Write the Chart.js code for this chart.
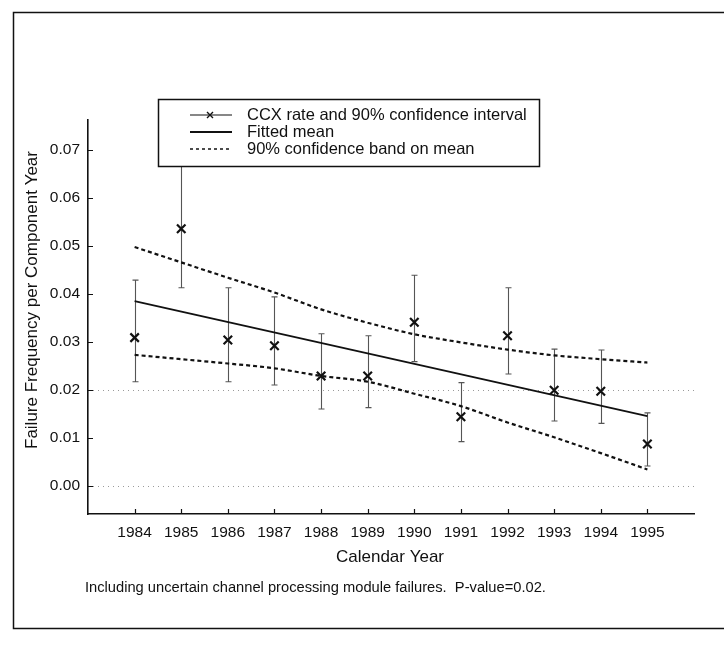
<!DOCTYPE html>
<html>
<head>
<meta charset="utf-8">
<script src="https://cdn.jsdelivr.net/npm/chart.js@4.4.1/dist/chart.umd.min.js"></script>
<style>
  html, body { margin: 0; padding: 0; background: #ffffff; }
  #wrap { position: relative; width: 724px; height: 662px; }
</style>
</head>
<body>
<div id="wrap"><canvas id="chart"></canvas></div>
<script>
// ---------------- data ----------------
const years = [1984, 1985, 1986, 1987, 1988, 1989, 1990, 1991, 1992, 1993, 1994, 1995];
const ccxRate  = [0.0309, 0.0536, 0.0304, 0.0292, 0.0229, 0.0229, 0.0341, 0.0144, 0.0313, 0.0199, 0.0197, 0.0087];
const ccxLower = [0.0217, 0.0413, 0.0217, 0.0210, 0.0160, 0.0163, 0.0259, 0.0092, 0.0233, 0.0135, 0.0130, 0.0041];
const ccxUpper = [0.0429, 0.0750, 0.0413, 0.0394, 0.0317, 0.0313, 0.0439, 0.0215, 0.0413, 0.0285, 0.0283, 0.0152];
const fitYears = [1984, 1995];
const fittedMean = [0.0385, 0.0145];
const bandUpper = [0.0498, 0.0466, 0.0434, 0.0403, 0.0368, 0.0340, 0.0316, 0.0299, 0.0284, 0.0272, 0.0264, 0.0257];
const bandLower = [0.0273, 0.0264, 0.0255, 0.0245, 0.0229, 0.0217, 0.0192, 0.0166, 0.0132, 0.0101, 0.0068, 0.0034];
const xTickYears = [1984, 1985, 1986, 1987, 1988, 1989, 1990, 1991, 1992, 1993, 1994, 1995];
const yTickValues = [0.00, 0.01, 0.02, 0.03, 0.04, 0.05, 0.06, 0.07];
const yGridValues = [0.00, 0.02];
const seriesLabels = ['CCX rate and 90% confidence interval', 'Fitted mean', '90% confidence band on mean'];
const xTitle = 'Calendar Year';
const yTitle = 'Failure Frequency per Component Year';
const captionText = 'Including uncertain channel processing module failures.  P-value=0.02.';

// ---------------- style ----------------
const FONT = '"Liberation Sans", Arial, sans-serif';
const FS_TICK = 15.5;
const FS_LEGEND = 16.5;
const FS_TITLE = 17;
const FS_CAPTION = 14.7;
const INK = '#111111';

const pts = (xs, ys) => xs.map((x, i) => ({ x: x, y: ys[i] }));

const errorBarPlugin = {
  id: 'errorBars',
  beforeDatasetsDraw(chart) {
    const { ctx, chartArea, scales } = chart;
    const xs = scales.x, ys = scales.y;
    ctx.save();
    // dotted reference lines
    ctx.strokeStyle = '#9a9a9a';
    ctx.lineWidth = 1;
    ctx.setLineDash([1, 4]);
    yGridValues.forEach(v => {
      const py = Math.round(ys.getPixelForValue(v)) + 0.5;
      ctx.beginPath();
      ctx.moveTo(chartArea.left, py);
      ctx.lineTo(chartArea.right, py);
      ctx.stroke();
    });
    ctx.setLineDash([]);
    // clip & error bars
    ctx.beginPath();
    ctx.rect(chartArea.left, chartArea.top, chartArea.right - chartArea.left, chartArea.bottom - chartArea.top);
    ctx.clip();
    ctx.strokeStyle = '#555555';
    ctx.lineWidth = 1.1;
    years.forEach((yr, i) => {
      const px = Math.round(xs.getPixelForValue(yr)) + 0.5;
      const pLo = ys.getPixelForValue(ccxLower[i]);
      const pHi = ys.getPixelForValue(ccxUpper[i]);
      ctx.beginPath();
      ctx.moveTo(px, pLo); ctx.lineTo(px, pHi);
      ctx.moveTo(px - 3, pLo); ctx.lineTo(px + 3, pLo);
      ctx.moveTo(px - 3, pHi); ctx.lineTo(px + 3, pHi);
      ctx.stroke();
    });
    ctx.restore();
  },
  afterDraw(chart) {
    const { ctx, chartArea, scales } = chart;
    const xs = scales.x, ys = scales.y;
    ctx.save();
    // inward tick marks
    ctx.strokeStyle = INK;
    ctx.lineWidth = 1.2;
    ctx.beginPath();
    yTickValues.forEach(v => {
      const py = Math.round(ys.getPixelForValue(v)) + 0.5;
      ctx.moveTo(chartArea.left, py); ctx.lineTo(chartArea.left + 5, py);
    });
    xTickYears.forEach(v => {
      const px = Math.round(xs.getPixelForValue(v)) + 0.5;
      ctx.moveTo(px, chartArea.bottom); ctx.lineTo(px, chartArea.bottom - 5);
    });
    ctx.stroke();

    // outer frame
    ctx.lineWidth = 1.5;
    ctx.strokeStyle = INK;
    ctx.beginPath();
    ctx.moveTo(730, 12.5); ctx.lineTo(13.5, 12.5); ctx.lineTo(13.5, 628.5); ctx.lineTo(730, 628.5);
    ctx.stroke();

    // titles and caption
    ctx.fillStyle = INK;
    ctx.font = FS_TITLE + 'px ' + FONT;
    ctx.textBaseline = 'middle';
    ctx.textAlign = 'center';
    ctx.fillText(xTitle, 390, 557);
    ctx.save();
    ctx.translate(32, 300);
    ctx.rotate(-Math.PI / 2);
    ctx.fillText(yTitle, 0, 0);
    ctx.restore();
    ctx.font = FS_CAPTION + 'px ' + FONT;
    ctx.textAlign = 'left';
    ctx.fillText(captionText, 85, 588);

    // legend box
    const L = 158.5, T = 99.5, R = 539.5, B = 166.5;
    ctx.fillStyle = '#ffffff';
    ctx.fillRect(L, T, R - L, B - T);
    ctx.lineWidth = 1.5;
    ctx.strokeStyle = INK;
    ctx.strokeRect(L, T, R - L, B - T);
    const rows = [115, 132, 149];
    const sx0 = 190, sx1 = 232, tx = 247;
    ctx.fillStyle = INK;
    ctx.font = FS_LEGEND + 'px ' + FONT;
    ctx.textAlign = 'left';
    ctx.textBaseline = 'middle';
    rows.forEach((ry, i) => ctx.fillText(seriesLabels[i], tx, ry));
    // row 1 symbol: line with x marker
    ctx.lineWidth = 1.2;
    ctx.beginPath(); ctx.moveTo(sx0, rows[0]); ctx.lineTo(sx1, rows[0]); ctx.stroke();
    ctx.lineWidth = 1.4;
    const mx = 210, my = rows[0], r = 3;
    ctx.beginPath();
    ctx.moveTo(mx - r, my - r); ctx.lineTo(mx + r, my + r);
    ctx.moveTo(mx - r, my + r); ctx.lineTo(mx + r, my - r);
    ctx.stroke();
    // row 2: solid
    ctx.lineWidth = 1.8;
    ctx.beginPath(); ctx.moveTo(sx0, rows[1]); ctx.lineTo(sx1, rows[1]); ctx.stroke();
    // row 3: dotted
    ctx.lineWidth = 1.5;
    ctx.setLineDash([3, 3]);
    ctx.beginPath(); ctx.moveTo(sx0, rows[2]); ctx.lineTo(sx1, rows[2]); ctx.stroke();
    ctx.restore();
  }
};

new Chart(document.getElementById('chart'), {
  type: 'line',
  data: {
    datasets: [
      {
        label: seriesLabels[0],
        data: pts(years, ccxRate),
        showLine: false,
        pointStyle: 'crossRot',
        pointRadius: 6,
        pointBorderWidth: 2.2,
        pointBorderColor: INK,
        borderColor: INK,
        order: 0
      },
      {
        label: seriesLabels[1],
        data: pts(fitYears, fittedMean),
        borderColor: INK,
        borderWidth: 1.8,
        pointRadius: 0,
        order: 1
      },
      {
        label: seriesLabels[2],
        data: pts(years, bandUpper),
        borderColor: INK,
        borderWidth: 2.2,
        borderDash: [4, 3],
        pointRadius: 0,
        cubicInterpolationMode: 'monotone',
        order: 2
      },
      {
        label: seriesLabels[2] + ' (lower)',
        data: pts(years, bandLower),
        borderColor: INK,
        borderWidth: 2.2,
        borderDash: [4, 3],
        pointRadius: 0,
        cubicInterpolationMode: 'monotone',
        order: 3
      }
    ]
  },
  options: {
    responsive: true,
    maintainAspectRatio: false,
    animation: false,
    layout: { padding: { left: 0, top: 120, right: 30, bottom: 108 } },
    plugins: { legend: { display: false }, tooltip: { enabled: false }, title: { display: false } },
    scales: {
      x: {
        type: 'linear',
        min: 1983,
        max: 1996,
        afterBuildTicks: s => { s.ticks = xTickYears.map(v => ({ value: v })); },
        afterFit: s => { s.height = 40; },
        ticks: {
          callback: v => String(v),
          font: { family: FONT, size: FS_TICK },
          color: INK,
          padding: 9,
          maxRotation: 0,
          autoSkip: false
        },
        grid: { display: true, color: 'rgba(0,0,0,0)', drawTicks: false },
        border: { display: true, color: INK, width: 1.6 }
      },
      y: {
        type: 'linear',
        min: -0.0059,
        max: 0.0763,
        afterBuildTicks: s => { s.ticks = yTickValues.map(v => ({ value: v })); },
        afterFit: s => { s.width = 88; },
        ticks: {
          callback: v => Number(v).toFixed(2),
          font: { family: FONT, size: FS_TICK },
          color: INK,
          padding: 8
        },
        grid: { display: true, color: 'rgba(0,0,0,0)', drawTicks: false },
        border: { display: true, color: INK, width: 1.6 }
      }
    }
  },
  plugins: [errorBarPlugin]
});
</script>
</body>
</html>
